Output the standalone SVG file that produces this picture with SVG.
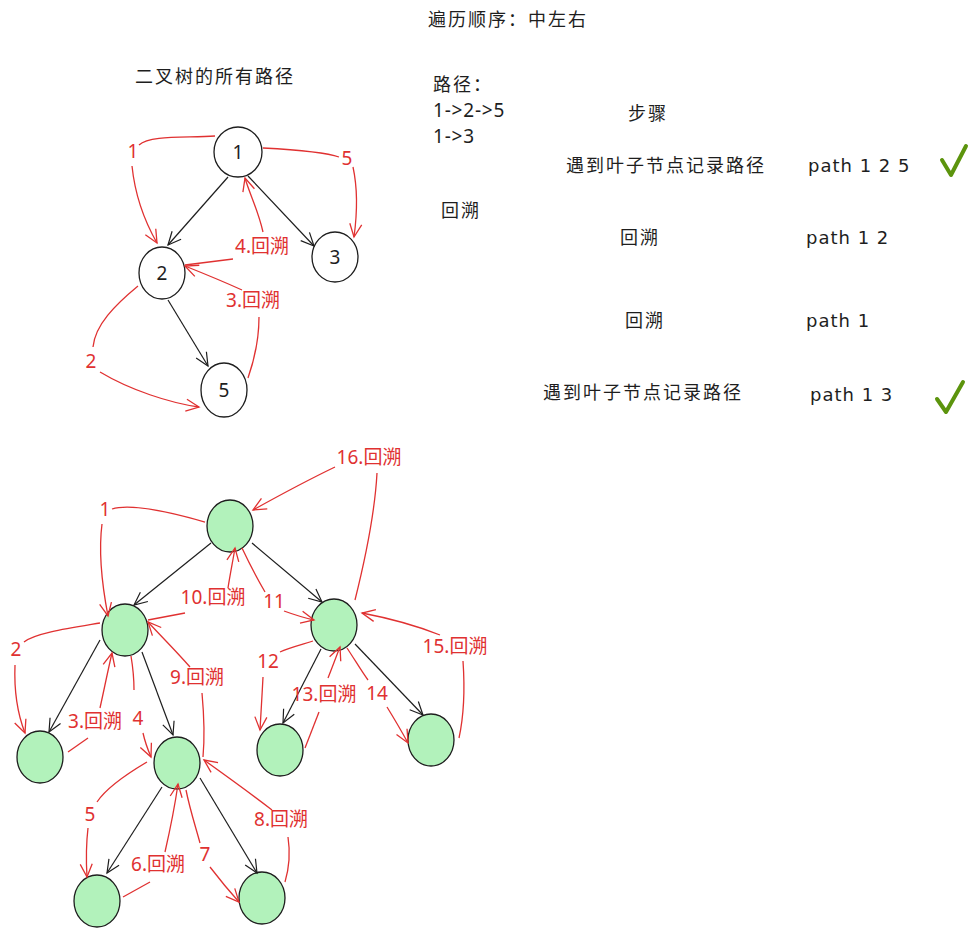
<svg xmlns="http://www.w3.org/2000/svg" width="975" height="936" viewBox="0 0 975 936">
<style>
.bg{fill:#ffffff}
.node{fill:#ffffff;stroke:#1e1e1e;stroke-width:1.3}
.gnode{fill:#b2f2bb;stroke:#1e1e1e;stroke-width:1.3}
.blk{fill:none;stroke:#1e1e1e;stroke-width:1.2}
.red{fill:none;stroke:#e03131;stroke-width:1.3}
.t{font-family:"Noto Sans CJK SC","Noto Sans",sans-serif;font-size:18px;fill:#1e1e1e;letter-spacing:2px}
.tl{font-family:"Noto Sans","Noto Sans CJK SC",sans-serif;font-size:19px;fill:#1e1e1e;letter-spacing:0.8px}
.nl{font-family:"Noto Sans",sans-serif;font-size:19px;fill:#1e1e1e;text-anchor:middle}
.rl{font-family:"Noto Sans","Noto Sans CJK SC",sans-serif;font-size:19px;fill:#e03131;text-anchor:middle}
.hw{font-family:"DejaVu Sans",sans-serif;font-size:18px;fill:#1e1e1e;letter-spacing:1px}
.chk{fill:none;stroke:#5c940d;stroke-width:4;stroke-linecap:round;stroke-linejoin:round}
</style>
<defs>
<marker id="ab" markerUnits="userSpaceOnUse" viewBox="-15 -8 17 16" refX="0" refY="0" markerWidth="17" markerHeight="16" orient="auto">
<path d="M-13,-6 L0,0 L-13,6" fill="none" stroke="#1e1e1e" stroke-width="1.2"/>
</marker>
<marker id="ar" markerUnits="userSpaceOnUse" viewBox="-15 -8 17 16" refX="0" refY="0" markerWidth="17" markerHeight="16" orient="auto">
<path d="M-13,-6 L0,0 L-13,6" fill="none" stroke="#e03131" stroke-width="1.3"/>
</marker>
</defs>
<rect class="bg" x="0" y="0" width="975" height="936"/>

<g id="texts">
<text class="t" x="428" y="26">遍历顺序：中左右</text>
<text class="t" x="135" y="83">二叉树的所有路径</text>
<text class="t" x="433" y="91">路径：</text>
<text class="tl" x="433" y="117">1-&gt;2-&gt;5</text>
<text class="tl" x="433" y="143">1-&gt;3</text>
<text class="t" x="628" y="120">步骤</text>
<text class="t" x="566" y="172">遇到叶子节点记录路径</text>
<text class="hw" x="808" y="172">path 1 2 5</text>
<text class="t" x="441" y="217">回溯</text>
<text class="t" x="620" y="244">回溯</text>
<text class="hw" x="806" y="244">path 1 2</text>
<text class="t" x="625" y="327">回溯</text>
<text class="hw" x="806" y="327">path 1</text>
<text class="t" x="543" y="399">遇到叶子节点记录路径</text>
<text class="hw" x="810" y="401">path 1 3</text>
<path class="chk" d="M942,160 L951,175 L966,146"/>
<path class="chk" d="M937,399 L946,412 L963,382"/>
</g>

<g id="t1"><ellipse class="node" cx="238" cy="152" rx="24" ry="25"/><text class="nl" x="238" y="159">1</text></g>
<g id="t2"><ellipse class="node" cx="162" cy="273" rx="23" ry="26"/><text class="nl" x="162" y="280">2</text></g>
<g id="t3"><ellipse class="node" cx="335" cy="257" rx="23" ry="25"/><text class="nl" x="335" y="264">3</text></g>
<g id="t5"><ellipse class="node" cx="224" cy="390" rx="23" ry="27"/><text class="nl" x="224" y="397">5</text></g>

<g id="g-root"><ellipse class="gnode" cx="230" cy="526" rx="23" ry="26"/></g>
<g id="g-L"><ellipse class="gnode" cx="125" cy="630" rx="23" ry="26"/></g>
<g id="g-R"><ellipse class="gnode" cx="334" cy="625" rx="23" ry="26"/></g>
<g id="g-LL"><ellipse class="gnode" cx="40" cy="757" rx="23" ry="26"/></g>
<g id="g-LR"><ellipse class="gnode" cx="177" cy="763" rx="23" ry="26"/></g>
<g id="g-LRL"><ellipse class="gnode" cx="97" cy="901" rx="23" ry="26"/></g>
<g id="g-LRR"><ellipse class="gnode" cx="262" cy="898" rx="23" ry="26"/></g>
<g id="g-RL"><ellipse class="gnode" cx="280" cy="750" rx="23" ry="26"/></g>
<g id="g-RR"><ellipse class="gnode" cx="431" cy="740" rx="23" ry="26"/></g>

<g id="connectors">
<path class="blk" d="M228,177 L168,245" marker-end="url(#ab)"/>
<path class="blk" d="M248,176 L314,246" marker-end="url(#ab)"/>
<path class="blk" d="M168,300 L208,366" marker-end="url(#ab)"/>
<path class="red" d="M215,136 C185,138 150,135 139,145"/>
<text class="rl" x="133" y="158">1</text>
<path class="red" d="M132,166 C135,195 145,222 157,243" marker-end="url(#ar)"/>
<path class="red" d="M263,148 C300,150 325,152 339,157"/>
<text class="rl" x="347" y="165">5</text>
<path class="red" d="M353,167 C358,190 357,215 354,237" marker-end="url(#ar)"/>
<path class="red" d="M138,286 C115,305 95,325 93,347"/>
<text class="rl" x="91" y="368">2</text>
<path class="red" d="M100,372 C130,390 170,403 199,407" marker-end="url(#ar)"/>
<path class="red" d="M248,378 C256,355 259,335 259,317"/>
<text class="rl" x="253" y="307">3.回溯</text>
<path class="red" d="M242,290 C220,280 200,272 185,266" marker-end="url(#ar)"/>
<path class="red" d="M185,265 C200,263 218,261 233,259"/>
<text class="rl" x="262" y="253">4.回溯</text>
<path class="red" d="M263,232 C258,210 250,195 245,178" marker-end="url(#ar)"/>

<path class="blk" d="M211,543 L134,605" marker-end="url(#ab)"/>
<path class="blk" d="M252,543 L322,602" marker-end="url(#ab)"/>
<path class="blk" d="M100,640 L49,732" marker-end="url(#ab)"/>
<path class="blk" d="M142,652 L173,735" marker-end="url(#ab)"/>
<path class="blk" d="M162,787 L107,873" marker-end="url(#ab)"/>
<path class="blk" d="M200,778 L257,873" marker-end="url(#ab)"/>
<path class="blk" d="M321,649 L283,723" marker-end="url(#ab)"/>
<path class="blk" d="M355,644 L423,715" marker-end="url(#ab)"/>

<path class="red" d="M205,522 C170,512 130,503 112,509"/>
<text class="rl" x="105" y="516">1</text>
<path class="red" d="M102,524 C98,555 103,590 108,616" marker-end="url(#ar)"/>
<path class="red" d="M100,623 C70,628 35,633 24,642"/>
<text class="rl" x="16" y="656">2</text>
<path class="red" d="M15,665 C14,690 18,715 25,733" marker-end="url(#ar)"/>
<path class="red" d="M68,752 L88,738"/>
<text class="rl" x="95" y="728">3.回溯</text>
<path class="red" d="M100,708 C104,690 108,670 112,653" marker-end="url(#ar)"/>
<path class="red" d="M131,656 C133,668 134,680 134,690"/>
<text class="rl" x="138" y="725">4</text>
<path class="red" d="M143,733 C145,742 148,750 151,757" marker-end="url(#ar)"/>
<path class="red" d="M147,762 C125,775 105,790 97,802"/>
<text class="rl" x="90" y="821">5</text>
<path class="red" d="M88,828 C86,845 86,860 87,877" marker-end="url(#ar)"/>
<path class="red" d="M123,897 L150,882"/>
<text class="rl" x="158" y="871">6.回溯</text>
<path class="red" d="M165,852 C170,830 175,805 178,784" marker-end="url(#ar)"/>
<path class="red" d="M186,790 C190,810 196,828 200,843"/>
<text class="rl" x="205" y="861">7</text>
<path class="red" d="M210,867 C220,880 230,892 239,902" marker-end="url(#ar)"/>
<path class="red" d="M285,882 C290,865 290,850 288,837"/>
<text class="rl" x="281" y="826">8.回溯</text>
<path class="red" d="M272,810 C250,793 225,775 204,760" marker-end="url(#ar)"/>
<path class="red" d="M203,757 C205,735 204,715 202,693"/>
<text class="rl" x="197" y="684">9.回溯</text>
<path class="red" d="M190,667 C175,650 160,635 148,622" marker-end="url(#ar)"/>
<path class="red" d="M148,620 L185,613"/>
<text class="rl" x="213" y="604">10.回溯</text>
<path class="red" d="M228,588 C230,575 233,560 235,548" marker-end="url(#ar)"/>
<path class="red" d="M242,548 C250,565 258,580 265,592"/>
<text class="rl" x="274" y="608">11</text>
<path class="red" d="M284,611 C295,615 305,618 314,620" marker-end="url(#ar)"/>
<path class="red" d="M313,641 C300,645 288,648 280,652"/>
<text class="rl" x="268" y="668">12</text>
<path class="red" d="M263,677 C262,695 261,715 260,730" marker-end="url(#ar)"/>
<path class="red" d="M305,748 C310,735 315,722 319,712"/>
<text class="rl" x="324" y="701">13.回溯</text>
<path class="red" d="M328,678 C332,668 336,657 340,647" marker-end="url(#ar)"/>
<path class="red" d="M347,648 C355,660 362,672 368,680"/>
<text class="rl" x="377" y="700">14</text>
<path class="red" d="M387,707 C395,720 402,732 408,743" marker-end="url(#ar)"/>
<path class="red" d="M459,738 C464,715 465,690 463,661"/>
<text class="rl" x="455" y="653">15.回溯</text>
<path class="red" d="M440,635 C415,625 388,618 362,613" marker-end="url(#ar)"/>
<path class="red" d="M355,600 C365,560 375,510 377,473"/>
<text class="rl" x="369" y="464">16.回溯</text>
<path class="red" d="M335,467 C308,480 280,495 253,510" marker-end="url(#ar)"/>
</g>
</svg>
